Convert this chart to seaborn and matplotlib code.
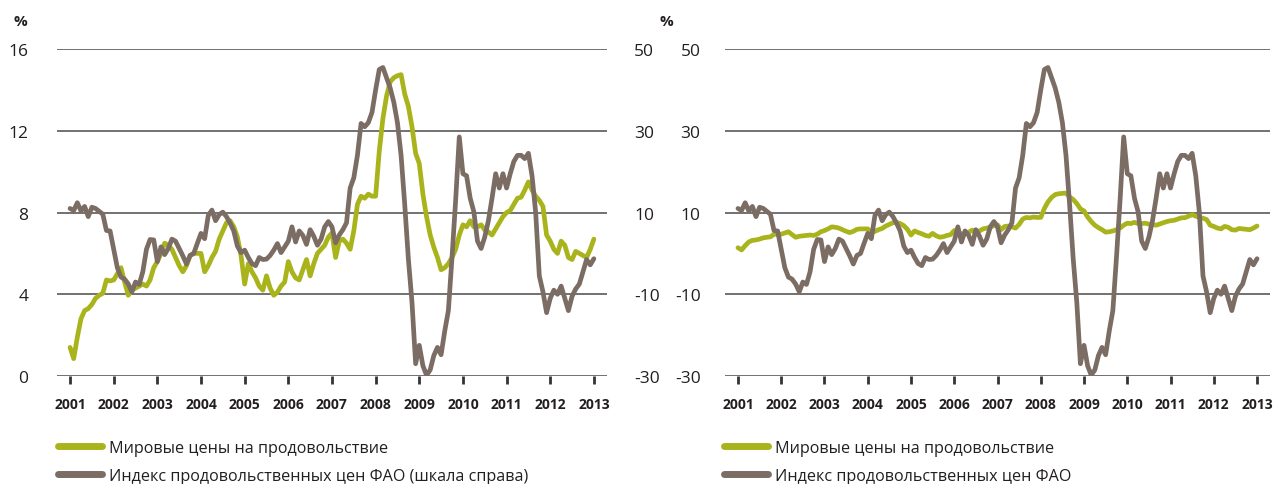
import numpy as np
import pandas as pd
import seaborn as sns
import matplotlib.pyplot as plt
from matplotlib.lines import Line2D

# monthly observations, Jan 2001 .. Jan 2013
months = pd.date_range('2001-01-01', '2013-01-01', freq='MS')

# world food prices, % (left scale)
world_food = [
    1.4, 0.85, 1.9, 2.8, 3.2, 3.3, 3.5, 3.8, 3.95, 4.05, 4.7, 4.65,
    4.7, 5.0, 5.3, 4.6, 3.95, 4.2, 4.3, 4.4, 4.5, 4.4, 4.7, 5.3,
    5.6, 6.0, 6.5, 6.4, 6.2, 5.8, 5.4, 5.1, 5.4, 5.9, 6.0, 6.0,
    6.0, 5.1, 5.4, 5.8, 6.1, 6.7, 7.1, 7.5, 7.6, 7.3, 6.8, 5.9,
    4.5, 5.5, 5.1, 4.8, 4.4, 4.2, 4.9, 4.3, 3.95, 4.1, 4.4, 4.6,
    5.6, 5.1, 4.8, 4.7, 5.2, 5.7, 4.9, 5.5, 6.0, 6.2, 6.4, 6.8,
    7.0, 5.8, 6.6, 6.7, 6.5, 6.2, 7.1, 8.4, 8.8, 8.7, 8.9, 8.8,
    8.8, 11.0, 12.6, 13.7, 14.4, 14.6, 14.7, 14.75, 13.8, 13.2, 12.2, 10.9,
    10.4, 8.9, 7.8, 6.9, 6.3, 5.8, 5.2, 5.3, 5.5, 5.8, 6.2, 6.9,
    7.4, 7.3, 7.6, 7.3, 7.3, 7.4, 7.15, 7.05, 6.9, 7.2, 7.5, 7.8,
    8.0, 8.1, 8.4, 8.7, 8.75, 9.1, 9.5, 9.1, 8.8, 8.6, 8.3, 6.9,
    6.6, 6.2, 6.0, 6.6, 6.4, 5.8, 5.7, 6.1, 6.0, 5.9, 5.8, 6.2,
    6.7,
]

# FAO food price index, % (right scale)
fao_index = [
    11.0, 10.5, 12.4, 10.4, 11.5, 9.0, 11.3, 11.0, 10.3, 9.6, 5.6, 5.5,
    1.0, -3.5, -5.8, -6.3, -7.5, -9.4, -7.0, -7.6, -4.5, 1.0, 3.4, 3.3,
    -2.0, 1.6, -0.3, 1.2, 3.5, 3.0, 1.2, -0.6, -2.6, -0.5, 0.0, 2.5,
    4.9, 3.6, 9.3, 10.6, 8.0, 9.5, 10.1, 9.0, 7.4, 5.5, 1.8, 0.2,
    0.8, -1.0, -2.5, -3.0, -1.0, -1.5, -1.4, -0.5, 0.8, 2.4, 0.2, 1.6,
    3.0, 6.5, 2.8, 5.5, 4.4, 2.2, 5.8, 4.2, 2.0, 3.5, 6.5, 7.8,
    6.5, 2.6, 4.5, 5.8, 7.5, 16.0, 18.5, 24.0, 31.8, 31.0, 32.0, 34.5,
    40.0, 45.0, 45.5, 43.0, 40.5, 37.0, 32.0, 24.0, 12.0, -1.3, -12.0, -27.0,
    -22.5, -27.5, -29.8, -28.5, -25.0, -23.0, -24.8, -19.0, -14.0, -1.0, 13.0, 28.5,
    19.5, 19.0, 13.5, 10.2, 3.0, 1.2, 4.0, 8.0, 13.5, 19.5, 16.0, 19.5,
    16.0, 19.5, 22.5, 24.0, 24.0, 23.2, 24.5, 19.0, 10.0, -5.5, -9.4, -14.5,
    -11.0, -9.0, -10.0, -8.0, -11.0, -14.0, -10.5, -8.7, -7.5, -4.5, -1.5, -2.8,
    -1.3,
]

years = list(range(2001, 2014))
left_ticks = [0, 4, 8, 12, 16]
right_ticks = [-30, -10, 10, 30, 50]

lbl_food = 'Мировые цены на продовольствие'
lbl_fao_left = 'Индекс продовольственных цен ФАО (шкала справа)'
lbl_fao_right = 'Индекс продовольственных цен ФАО'

GREEN = '#a9b41c'
BROWN = '#7b6c64'
GRID = '#4a4a4a'
TEXT = '#231f20'

sns.set_style('white')
plt.rcParams['font.family'] = ['Open Sans', 'DejaVu Sans']
plt.rcParams['axes.unicode_minus'] = False

df = pd.DataFrame({
    't': months.year + (months.month - 1) / 12,
    'food': world_food,
    'fao': fao_index,
})

fig = plt.figure(figsize=(12.8, 4.85), dpi=100)
ax1 = fig.add_axes([0.0445, 0.2227, 0.4297, 0.674])
ax1r = ax1.twinx()
ax2 = fig.add_axes([0.5664, 0.2227, 0.4258, 0.674])

LW = 3.4
sns.lineplot(data=df, x='t', y='food', ax=ax1, color=GREEN, lw=LW, legend=False)
sns.lineplot(data=df, x='t', y='fao', ax=ax1r, color=BROWN, lw=LW, legend=False)
sns.lineplot(data=df, x='t', y='food', ax=ax2, color=GREEN, lw=LW, legend=False)
sns.lineplot(data=df, x='t', y='fao', ax=ax2, color=BROWN, lw=LW, legend=False)

ax1.set_ylim(0, 16)
ax1.set_yticks(left_ticks)
ax1r.set_ylim(-30, 50)
ax1r.set_yticks(right_ticks)
ax2.set_ylim(-30, 50)
ax2.set_yticks(right_ticks)

for ax in (ax1, ax1r, ax2):
    ax.set_xlim(2000.7, 2013.3)
    ax.set_xlabel('')
    ax.set_ylabel('')
    for s in ax.spines.values():
        s.set_visible(False)

for ax in (ax1, ax2):
    ax.set_xticks(years)
    ax.set_xticklabels([str(y) for y in years], fontsize=10, fontweight='bold', color=TEXT)
    ax.tick_params(axis='x', bottom=True, direction='out', length=6, width=2,
                   color='#333333', pad=9)
    ax.yaxis.grid(True, color=GRID, lw=1.1)
    ax.xaxis.grid(False)
    ax.set_axisbelow(True)

ax1.tick_params(axis='y', left=False, pad=17, labelsize=12.5, labelcolor=TEXT)
ax2.tick_params(axis='y', left=False, pad=14, labelsize=12.5, labelcolor=TEXT)
ax1r.tick_params(axis='y', right=False, pad=16, labelsize=12.5, labelcolor=TEXT)
ax1r.grid(False)
ax1r.tick_params(axis='x', bottom=False, labelbottom=False)

fig.text(13 / 1280, 1 - 22 / 485, '%', fontsize=11, fontweight='bold', color=TEXT, va='center')
fig.text(660 / 1280, 1 - 22 / 485, '%', fontsize=11, fontweight='bold', color=TEXT, va='center')

def legend_handles(labels):
    return [Line2D([], [], color=c, lw=5, solid_capstyle='round') for c in (GREEN, BROWN)], labels

for x0, lbl in ((58, lbl_fao_left), (724, lbl_fao_right)):
    h, l = legend_handles([lbl_food, lbl])
    fig.legend(h, l, loc='upper left', bbox_to_anchor=(x0 / 1280, 1 - 441 / 485), frameon=False,
               fontsize=11.6, handlelength=2.7, handletextpad=0.45, labelspacing=0.72,
               borderpad=0, borderaxespad=0, labelcolor=TEXT)

fig.savefig('out.png', dpi=100)
